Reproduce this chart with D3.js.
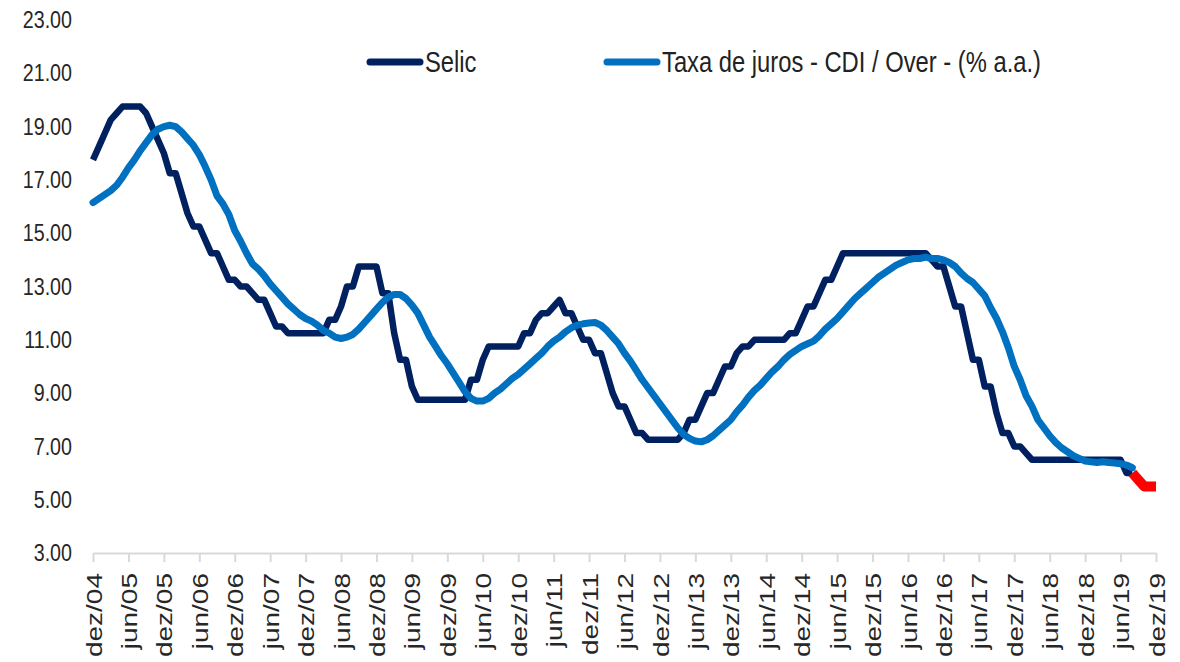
<!DOCTYPE html>
<html>
<head>
<meta charset="utf-8">
<script src="https://cdn.jsdelivr.net/npm/d3@7"></script>
<style>
  body { margin: 0; background: #fff; }
  svg { display: block; }
</style>
</head>
<body>
<script>

// monthly values, first point = dez/04
var selic = [
    17.75,
    18.25, 18.75, 19.25, 19.50, 19.75, 19.75, 19.75, 19.75, 19.50, 19.00, 18.50, 18.00, // 2005
    17.25, 17.25, 16.50, 15.75, 15.25, 15.25, 14.75, 14.25, 14.25, 13.75, 13.25, 13.25, // 2006
    13.00, 13.00, 12.75, 12.50, 12.50, 12.00, 11.50, 11.50, 11.25, 11.25, 11.25, 11.25, // 2007
    11.25, 11.25, 11.25, 11.75, 11.75, 12.25, 13.00, 13.00, 13.75, 13.75, 13.75, 13.75, // 2008
    12.75, 12.75, 11.25, 10.25, 10.25, 9.25, 8.75, 8.75, 8.75, 8.75, 8.75, 8.75,        // 2009
    8.75, 8.75, 8.75, 9.50, 9.50, 10.25, 10.75, 10.75, 10.75, 10.75, 10.75, 10.75,      // 2010
    11.25, 11.25, 11.75, 12.00, 12.00, 12.25, 12.50, 12.00, 12.00, 11.50, 11.00, 11.00, // 2011
    10.50, 10.50, 9.75, 9.00, 8.50, 8.50, 8.00, 7.50, 7.50, 7.25, 7.25, 7.25,           // 2012
    7.25, 7.25, 7.25, 7.50, 8.00, 8.00, 8.50, 9.00, 9.00, 9.50, 10.00, 10.00,           // 2013
    10.50, 10.75, 10.75, 11.00, 11.00, 11.00, 11.00, 11.00, 11.00, 11.25, 11.25, 11.75, // 2014
    12.25, 12.25, 12.75, 13.25, 13.25, 13.75, 14.25, 14.25, 14.25, 14.25, 14.25, 14.25, // 2015
    14.25, 14.25, 14.25, 14.25, 14.25, 14.25, 14.25, 14.25, 14.25, 14.00, 13.75, 13.75, // 2016
    13.00, 12.25, 12.25, 11.25, 10.25, 10.25, 9.25, 9.25, 8.25, 7.50, 7.50, 7.00,       // 2017
    7.00, 6.75, 6.50, 6.50, 6.50, 6.50, 6.50, 6.50, 6.50, 6.50, 6.50, 6.50,             // 2018
    6.50, 6.50, 6.50, 6.50, 6.50, 6.50, 6.00, 6.00                                      // 2019
];

var cdi = [
    16.15,
    16.30, 16.45, 16.60, 16.80, 17.10, 17.45, 17.75, 18.10, 18.40, 18.70, 18.90, 19.00,
    19.05, 19.00, 18.80, 18.55, 18.30, 17.95, 17.50, 17.00, 16.40, 16.10, 15.70, 15.10,
    14.70, 14.25, 13.85, 13.65, 13.40, 13.10, 12.85, 12.60, 12.35, 12.15, 11.95, 11.80,
    11.70, 11.55, 11.35, 11.25, 11.10, 11.05, 11.10, 11.20, 11.40, 11.65, 11.90, 12.15,
    12.40, 12.60, 12.70, 12.70, 12.55, 12.30, 12.00, 11.55, 11.10, 10.75, 10.40, 10.10,
    9.75, 9.40, 9.05, 8.80, 8.70, 8.70, 8.80, 9.00, 9.15, 9.35, 9.55, 9.70,
    9.90, 10.10, 10.30, 10.50, 10.75, 10.95, 11.10, 11.30, 11.45, 11.55, 11.60, 11.63,
    11.65, 11.55, 11.35, 11.10, 10.85, 10.50, 10.20, 9.85, 9.50, 9.20, 8.90, 8.60,
    8.30, 8.00, 7.70, 7.45, 7.30, 7.20, 7.17, 7.25, 7.40, 7.60, 7.80, 8.00,
    8.30, 8.55, 8.85, 9.10, 9.30, 9.55, 9.80, 10.00, 10.25, 10.45, 10.60, 10.75,
    10.85, 10.95, 11.15, 11.40, 11.60, 11.80, 12.05, 12.30, 12.55, 12.75, 12.95, 13.15,
    13.35, 13.50, 13.65, 13.80, 13.90, 14.00, 14.05, 14.05, 14.10, 14.05, 14.05, 14.00,
    13.90, 13.75, 13.50, 13.30, 13.15, 12.90, 12.65, 12.20, 11.80, 11.30, 10.70, 10.00,
    9.50, 8.90, 8.50, 8.00, 7.70, 7.40, 7.15, 6.95, 6.80, 6.65, 6.55, 6.45,
    6.42, 6.40, 6.42, 6.40, 6.38, 6.35, 6.30, 6.20
];

// red tail (ago/19 to dez/19)
var projStart = 176;
var projection = [6.00, 5.75, 5.50, 5.50, 5.50];

var yTicks = [3, 5, 7, 9, 11, 13, 15, 17, 19, 21, 23];
var tickLabels = ["dez/04", "jun/05", "dez/05", "jun/06", "dez/06", "jun/07", "dez/07",
    "jun/08", "dez/08", "jun/09", "dez/09", "jun/10", "dez/10", "jun/11", "dez/11",
    "jun/12", "dez/12", "jun/13", "dez/13", "jun/14", "dez/14", "jun/15", "dez/15",
    "jun/16", "dez/16", "jun/17", "dez/17", "jun/18", "dez/18", "jun/19", "dez/19"];

var seriesNames = ["Selic", "Taxa de juros - CDI / Over - (% a.a.)"];
var seriesColors = ["#002060", "#0070c0"];

var width = 1180,
    height = 662,
    font = "'Liberation Sans', Arial, sans-serif",
    squeeze = 0.82;   // the original text is condensed

var svg = d3.select("body").append("svg")
    .attr("width", width)
    .attr("height", height);

var xScale = d3.scaleLinear().domain([0, 180]).range([93, 1156]);
var yScale = d3.scaleLinear().domain([3, 23]).range([553, 20]);

// y labels, no axis line
var yAxis = svg.append("g")
    .attr("transform", "translate(72,0)")
    .call(d3.axisLeft(yScale).tickValues(yTicks).tickSize(0).tickPadding(0)
        .tickFormat(d3.format(".2f")));
yAxis.select(".domain").remove();
yAxis.selectAll("text")
    .attr("x", 0)
    .attr("transform", "scale(" + squeeze + ",1)")
    .style("font-family", font)
    .style("font-size", "24px")
    .style("fill", "#262626");

// x axis
var xAxis = svg.append("g")
    .attr("transform", "translate(0," + yScale(3) + ")")
    .call(d3.axisBottom(xScale)
        .tickValues(d3.range(0, 181, 6))
        .tickSize(9)
        .tickSizeOuter(0)
        .tickFormat(function(d) { return tickLabels[d / 6]; }));
xAxis.select(".domain").attr("stroke", "#d9d9d9").attr("stroke-width", 2);
xAxis.selectAll(".tick line").attr("stroke", "#d9d9d9").attr("stroke-width", 2);
xAxis.selectAll(".tick text")
    .attr("x", 0)
    .attr("y", 0)
    .attr("dy", "0.36em")
    .attr("transform", "translate(0,20) rotate(-90) scale(1,0.8)")
    .style("text-anchor", "end")
    .style("font-family", font)
    .style("font-size", "28px")
    .style("fill", "#262626");

var line = d3.line()
    .x(function(d) { return xScale(d.i); })
    .y(function(d) { return yScale(d.v); });

function toPoints(arr, start) {
    return arr.map(function(v, i) { return { i: i + start, v: v }; });
}

svg.append("path")
    .datum(toPoints(selic, 0))
    .attr("d", line)
    .attr("fill", "none")
    .attr("stroke", seriesColors[0])
    .attr("stroke-width", 6.5)
    .attr("stroke-linejoin", "round");

svg.append("path")
    .datum(toPoints(cdi, 0))
    .attr("d", line)
    .attr("fill", "none")
    .attr("stroke", seriesColors[1])
    .attr("stroke-width", 7)
    .attr("stroke-linejoin", "round")
    .attr("stroke-linecap", "round");

svg.append("path")
    .datum(toPoints(projection, projStart))
    .attr("d", line)
    .attr("fill", "none")
    .attr("stroke", "#ff0000")
    .attr("stroke-width", 10)
    .attr("stroke-linejoin", "round");

// legend
var legendX = [370, 607];
var legend = svg.append("g");
seriesNames.forEach(function(name, i) {
    legend.append("line")
        .attr("x1", legendX[i])
        .attr("x2", legendX[i] + 50)
        .attr("y1", 62)
        .attr("y2", 62)
        .attr("stroke", seriesColors[i])
        .attr("stroke-width", 7)
        .attr("stroke-linecap", "round");
    legend.append("text")
        .attr("transform", "translate(" + (legendX[i] + 55) + ",62) scale(0.82,1)")
        .attr("dy", "0.35em")
        .style("font-family", font)
        .style("font-size", "29px")
        .style("fill", "#222")
        .text(name);
});

</script>
</body>
</html>
